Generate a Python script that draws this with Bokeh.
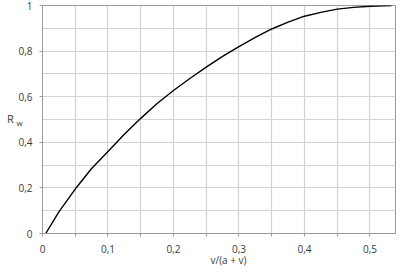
from bokeh.plotting import figure
from bokeh.models import FixedTicker, Label, Range1d
from bokeh.embed import file_html
from bokeh.resources import INLINE

# data
ratio = [0.005, 0.025, 0.05, 0.075, 0.1, 0.125, 0.15, 0.175, 0.2, 0.225, 0.25, 0.275,
         0.3, 0.325, 0.35, 0.375, 0.4, 0.425, 0.45, 0.475, 0.5, 0.533]
r_w = [0.0, 0.095, 0.195, 0.285, 0.36, 0.435, 0.505, 0.57, 0.627, 0.68, 0.73, 0.777,
       0.82, 0.86, 0.897, 0.927, 0.953, 0.97, 0.984, 0.992, 0.997, 1.0]

x_ticks = [0, 0.1, 0.2, 0.3, 0.4, 0.5]
x_minor = [0.05, 0.15, 0.25, 0.35, 0.45]
y_ticks = [0, 0.2, 0.4, 0.6, 0.8, 1.0]
y_minor = [0.1, 0.3, 0.5, 0.7, 0.9]
x_labels = {0: "0", 0.1: "0,1", 0.2: "0,2", 0.3: "0,3", 0.4: "0,4", 0.5: "0,5"}
y_labels = {0: "0", 0.2: "0,2", 0.4: "0,4", 0.6: "0,6", 0.8: "0,8", 1.0: "1"}

FONT = "Open Sans"
GRID = "#d2d2d2"
AXIS = "#9a9a9a"
TXT = "#3a3a3a"

p = figure(width=400, height=272, output_backend="svg", toolbar_location=None,
           x_range=Range1d(0, 0.539), y_range=Range1d(0, 1),
           min_border_left=42, min_border_right=5, min_border_top=5, min_border_bottom=39)
p.background_fill_color = "white"
p.border_fill_color = "white"
p.outline_line_color = AXIS
p.outline_line_width = 1

p.xaxis.ticker = FixedTicker(ticks=x_ticks, minor_ticks=x_minor)
p.yaxis.ticker = FixedTicker(ticks=y_ticks, minor_ticks=y_minor)
p.xaxis.major_label_overrides = x_labels
p.yaxis.major_label_overrides = y_labels

for ax in (p.xaxis, p.yaxis):
    ax.axis_line_color = AXIS
    ax.major_tick_line_color = AXIS
    ax.major_tick_in = 0
    ax.major_tick_out = 3
    ax.major_label_text_font = FONT
    ax.major_label_text_font_size = "10px"
    ax.major_label_text_color = TXT
p.xaxis.minor_tick_line_color = AXIS
p.xaxis.minor_tick_in = 0
p.xaxis.minor_tick_out = 3
p.yaxis.minor_tick_line_color = None
p.xaxis.major_label_standoff = 8
p.yaxis.major_label_standoff = 6

for g in (p.xgrid, p.ygrid):
    g.grid_line_color = GRID
    g.grid_line_width = 1.2
    g.minor_grid_line_color = GRID
    g.minor_grid_line_width = 1.2

p.line(ratio, r_w, line_color="black", line_width=1.4)

# axis titles placed in the side panels (screen offsets within those panels)
p.add_layout(Label(x=2, y=115, x_units="screen", y_units="screen", text="R",
                   text_font=FONT, text_font_size="11px", text_color=TXT,
                   text_align="center", text_baseline="middle"), "left")
p.add_layout(Label(x=17, y=111, x_units="screen", y_units="screen", text="w",
                   text_font=FONT, text_font_size="8px", text_color=TXT,
                   text_align="center", text_baseline="middle"), "left")
p.add_layout(Label(x=186, y=10, x_units="screen", y_units="screen", text="v/(a + v)",
                   text_font=FONT, text_font_size="10px", text_color=TXT,
                   text_align="center", text_baseline="middle"), "below")

open("out.html", "w").write(file_html(p, INLINE))
